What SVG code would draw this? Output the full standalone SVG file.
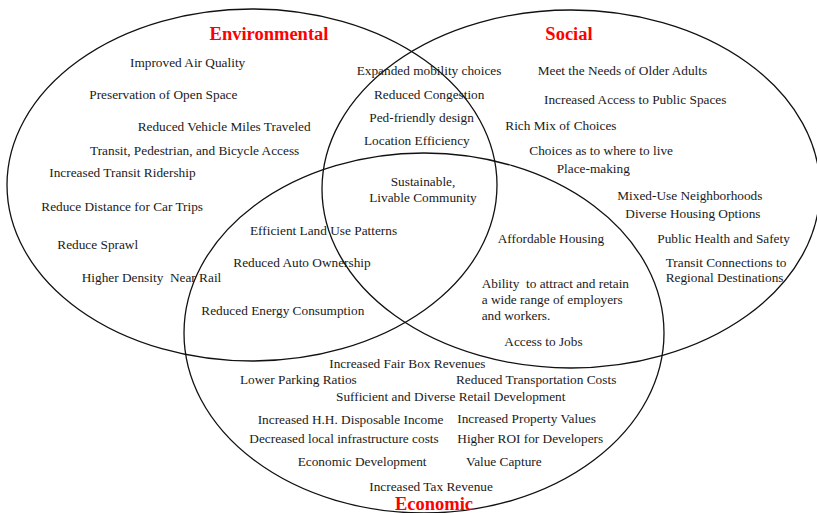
<svg xmlns="http://www.w3.org/2000/svg" width="817" height="513" viewBox="0 0 817 513">
<style>
.c{fill:none;stroke:#111;stroke-width:1.3}
text{font-family:"Liberation Serif","Times New Roman",serif;font-size:13.3px;fill:#1a1a1a}
.h{font-size:18.5px;font-weight:bold;fill:#ff0000;text-anchor:middle}
.m{text-anchor:middle}
</style>
<rect width="817" height="513" fill="#fff"/>
<g id="circles">
<ellipse id="env-circle" class="c" cx="252" cy="185" rx="245" ry="176"/>
<ellipse id="soc-circle" class="c" cx="571" cy="189" rx="249" ry="179"/>
<ellipse id="eco-circle" class="c" cx="424" cy="333" rx="240" ry="180"/>
</g>
<g id="environmental">
<text class="h" x="269" y="40">Environmental</text>
<text x="130" y="66.5">Improved Air Quality</text>
<text x="89.3" y="98.7">Preservation of Open Space</text>
<text x="137.7" y="130.7">Reduced Vehicle Miles Traveled</text>
<text x="90" y="155">Transit, Pedestrian, and Bicycle Access</text>
<text x="49.3" y="176.7">Increased Transit Ridership</text>
<text x="41.3" y="210.7">Reduce Distance for Car Trips</text>
<text x="57.3" y="248.7">Reduce Sprawl</text>
<text x="81.7" y="282.3" xml:space="preserve">Higher Density  Near Rail</text>
</g>
<g id="env-social">
<text x="356.7" y="74.7">Expanded mobility choices</text>
<text x="374" y="98.7">Reduced Congestion</text>
<text x="369.3" y="122">Ped-friendly design</text>
<text x="364" y="144.7">Location Efficiency</text>
</g>
<g id="center">
<text class="m" x="423" y="186">Sustainable,</text>
<text class="m" x="423" y="202">Livable Community</text>
</g>
<g id="env-economic">
<text x="250" y="234.7">Efficient Land Use Patterns</text>
<text x="233.3" y="266.7">Reduced Auto Ownership</text>
<text x="201.3" y="314.7">Reduced Energy Consumption</text>
</g>
<g id="social">
<text class="h" x="569" y="40">Social</text>
<text x="537.7" y="74.7">Meet the Needs of Older Adults</text>
<text x="544" y="104.3">Increased Access to Public Spaces</text>
<text x="505.3" y="130">Rich Mix of Choices</text>
<text x="529.3" y="155">Choices as to where to live</text>
<text x="556.7" y="173.3">Place-making</text>
<text x="617.3" y="200">Mixed-Use Neighborhoods</text>
<text x="625.3" y="218.3">Diverse Housing Options</text>
<text x="657.3" y="242.7">Public Health and Safety</text>
<text x="665.7" y="266.7">Transit Connections to</text>
<text x="665.7" y="282.3">Regional Destinations</text>
</g>
<g id="social-economic">
<text x="497.7" y="242.7">Affordable Housing</text>
<text x="481.7" y="288.3" xml:space="preserve">Ability  to attract and retain</text>
<text x="481.7" y="304.3">a wide range of employers</text>
<text x="481.7" y="320">and workers.</text>
<text x="504.3" y="346">Access to Jobs</text>
</g>
<g id="economic">
<text x="329.3" y="368.3">Increased Fair Box Revenues</text>
<text x="240" y="384.3">Lower Parking Ratios</text>
<text x="456" y="384.3">Reduced Transportation Costs</text>
<text x="336" y="400.7">Sufficient and Diverse Retail Development</text>
<text x="257.7" y="424.3">Increased H.H. Disposable Income</text>
<text x="457.3" y="423.3">Increased Property Values</text>
<text x="249.3" y="442.7">Decreased local infrastructure costs</text>
<text x="457.3" y="442.7">Higher ROI for Developers</text>
<text x="297.7" y="466.3">Economic Development</text>
<text x="466" y="466.3">Value Capture</text>
<text x="369.3" y="490.7">Increased Tax Revenue</text>
<text class="h" x="434" y="510">Economic</text>
</g>
</svg>
